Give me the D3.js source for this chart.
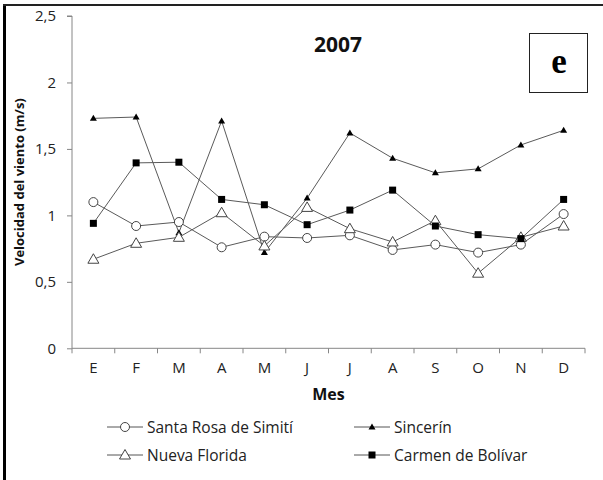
<!DOCTYPE html>
<html><head><meta charset="utf-8">
<script src="https://cdn.jsdelivr.net/npm/d3@7"></script>
<style>body{margin:0;background:#fff}svg{display:block}</style>
</head><body>
<svg id="c" width="603" height="480"></svg>
<script>
const months = ["E","F","M","A","M","J","J","A","S","O","N","D"];
const santaRosa = [1.10,0.92,0.95,0.76,0.84,0.83,0.85,0.74,0.78,0.72,0.78,1.01];
const sincerin = [1.73,1.74,0.87,1.71,0.72,1.13,1.62,1.43,1.32,1.35,1.53,1.64];
const nuevaFlorida = [0.67,0.79,0.835,1.02,0.77,1.06,0.90,0.80,0.96,0.565,0.835,0.92];
const carmen = [0.94,1.395,1.40,1.12,1.08,0.93,1.04,1.19,0.92,0.855,0.825,1.12];
const yTicks = [0,0.5,1,1.5,2,2.5];
const seriesNames = ["Santa Rosa de Simití","Sincerín","Nueva Florida","Carmen de Bolívar"];

const series = [
  {name:seriesNames[0], values:santaRosa, marker:"circle"},
  {name:seriesNames[1], values:sincerin, marker:"triFill"},
  {name:seriesNames[2], values:nuevaFlorida, marker:"triOpen"},
  {name:seriesNames[3], values:carmen, marker:"square"}
];

const svg = d3.select("#c");
const font = "'Open Sans', 'Noto Sans', sans-serif";
const L=72, R=585, T=16, B=348.3;
const x = d3.scaleBand().domain(d3.range(12)).range([L,R]);
const y = d3.scaleLinear().domain([0,2.5]).range([B,T]);
const axisCol = "#868686";

// border
svg.append("rect").attr("x",3).attr("y",4).attr("width",3).attr("height",476).attr("fill","#000");
svg.append("rect").attr("x",3).attr("y",4).attr("width",600).attr("height",2).attr("fill","#222");

// y axis
const ya = svg.append("g").attr("transform",`translate(${L},0)`)
  .call(d3.axisLeft(y).tickValues(yTicks).tickSize(5).tickPadding(11)
    .tickFormat(d=>d3.format("")(d).replace(".",",")));
ya.select(".domain").attr("stroke",axisCol).attr("d",`M-5,${T}H0V${B}`);
ya.selectAll(".tick line").attr("stroke",axisCol);
ya.selectAll(".tick text").attr("font-family",font).attr("font-size",15).attr("fill","#222");

// x axis
const xa = svg.append("g").attr("transform",`translate(0,${B})`)
  .call(d3.axisBottom(x).tickFormat(i=>months[i]).tickSize(0).tickPadding(14));
xa.select(".domain").attr("stroke",axisCol).attr("d",`M${L},0H${R}`);
xa.selectAll(".tick text").attr("font-family",font).attr("font-size",15).attr("fill","#222");
const bounds = d3.range(13).map(i=>L + i*x.step());
svg.append("g").selectAll("line").data(bounds).join("line")
  .attr("x1",d=>d).attr("x2",d=>d).attr("y1",B).attr("y2",B+5).attr("stroke",axisCol);

// labels
svg.append("text").attr("transform",`translate(24,${(T+B)/2}) rotate(-90)`)
  .attr("text-anchor","middle").attr("font-family",font).attr("font-weight","bold")
  .attr("font-size",13).attr("fill","#111").text("Velocidad del viento (m/s)");
svg.append("text").attr("x",(L+R)/2).attr("y",400).attr("text-anchor","middle")
  .attr("font-family",font).attr("font-weight","bold").attr("font-size",16).attr("fill","#111").text("Mes");
svg.append("text").attr("x",338).attr("y",52).attr("text-anchor","middle")
  .attr("font-family",font).attr("font-weight","bold").attr("font-size",21).attr("fill","#111").text("2007");
svg.append("rect").attr("x",529.5).attr("y",33.5).attr("width",58).attr("height",59)
  .attr("fill","#fff").attr("stroke","#222").attr("stroke-width",1);
svg.append("text").attr("x",559).attr("y",73).attr("text-anchor","middle")
  .attr("font-family","'Liberation Serif', serif").attr("font-weight","bold").attr("font-size",35).attr("fill","#000").text("e");

const line = d3.line().x((d,i)=>x(i)+x.bandwidth()/2).y(d=>y(d));

function drawMarker(g, type, cx, cy){
  if(type==="circle"){
    g.append("circle").attr("cx",cx).attr("cy",cy).attr("r",4.5).attr("fill","#fff").attr("stroke","#444").attr("stroke-width",1);
  } else if(type==="triOpen"){
    g.append("path").attr("d",`M${cx},${cy-5.5}L${cx+5.5},${cy+4}L${cx-5.5},${cy+4}Z`).attr("fill","#fff").attr("stroke","#444").attr("stroke-width",1);
  } else if(type==="triFill"){
    g.append("path").attr("d",`M${cx},${cy-3.5}L${cx+3.5},${cy+2.5}L${cx-3.5},${cy+2.5}Z`).attr("fill","#000");
  } else {
    g.append("rect").attr("x",cx-3.5).attr("y",cy-3.5).attr("width",7).attr("height",7).attr("fill","#000");
  }
}

const plot = svg.append("g");
series.forEach(s=>{
  plot.append("path").datum(s.values).attr("d",line).attr("fill","none").attr("stroke","#5a5a5a").attr("stroke-width",1);
});
series.forEach(s=>{
  const g = plot.append("g");
  s.values.forEach((v,i)=>drawMarker(g,s.marker,x(i)+x.bandwidth()/2,y(v)));
});

// legend
const legPos = [[107,427],[354,427],[107,455],[354,455]];
series.forEach((s,k)=>{
  const [lx,ly] = legPos[k];
  const g = svg.append("g");
  g.append("line").attr("x1",lx).attr("x2",lx+36).attr("y1",ly).attr("y2",ly).attr("stroke","#555");
  drawMarker(g,s.marker,lx+18,ly);
  g.append("text").attr("x",lx+40).attr("y",ly+5.5).attr("font-family",font).attr("font-size",15.5).attr("fill","#222").text(s.name);
});
</script>
</body></html>
